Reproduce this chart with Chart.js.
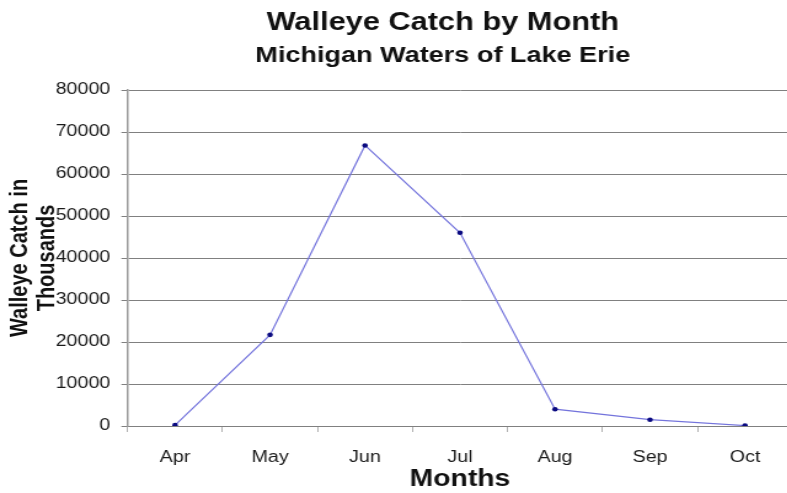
<!DOCTYPE html>
<html>
<head>
<meta charset="utf-8">
<title>Walleye Catch by Month</title>
<script src="https://cdn.jsdelivr.net/npm/chart.js@4.4.1/dist/chart.umd.min.js"></script>
<style>
    html, body { margin: 0; padding: 0; background: #fff; overflow: hidden; }
    #wrap { position: relative; width: 787px; height: 493px; overflow: hidden; }
    /* the reference is a horizontally stretched image, so stretch the canvas the same way */
    #chart { position: absolute; left: 0; top: 0; transform: scaleX(1.23); transform-origin: 0 0; }
</style>
</head>
<body>
<div id="wrap"><canvas id="chart" width="720" height="493"></canvas></div>
<script>
var months = ['Apr', 'May', 'Jun', 'Jul', 'Aug', 'Sep', 'Oct'];
var catchValues = [200, 21700, 66800, 46000, 4000, 1500, 100];
var yTicks = [0, 10000, 20000, 30000, 40000, 50000, 60000, 70000, 80000];

var chartTitle = 'Walleye Catch by Month';
var chartSubtitle = 'Michigan Waters of Lake Erie';
var xTitle = 'Months';
var yTitle = ['Walleye Catch in', 'Thousands'];

Chart.defaults.font.family = 'Arial, "Liberation Sans", sans-serif';
Chart.defaults.color = '#222';

var ctx = document.getElementById('chart').getContext('2d');
var myLineChart = new Chart(ctx, {
    type: 'line',
    data: {
        labels: months,
        datasets: [{
            label: 'Walleye catch',
            data: catchValues,
            borderColor: '#7474dc',
            borderWidth: 1.2,
            pointBackgroundColor: '#0a0a80',
            pointBorderColor: '#0a0a80',
            pointRadius: 2.3,
            pointBorderWidth: 0,
            tension: 0,
            fill: false
        }]
    },
    options: {
        responsive: false,
        animation: false,
        layout: { padding: 0 },
        plugins: {
            legend: { display: false },
            tooltip: { enabled: false },
            title: {
                display: true,
                text: chartTitle,
                color: '#111',
                font: { size: 25, weight: 'bold' },
                padding: { top: 8, bottom: 0 }
            },
            subtitle: {
                display: true,
                text: chartSubtitle,
                color: '#111',
                font: { size: 22, weight: 'bold' },
                padding: { top: 5, bottom: 20.6 }
            }
        },
        scales: {
            x: {
                offset: true,
                grid: {
                    offset: true,
                    drawOnChartArea: false,
                    drawTicks: true,
                    tickLength: 6,
                    color: '#b0b0b0'
                },
                border: { display: true, color: '#808080', width: 1 },
                ticks: {
                    padding: 16,
                    color: '#1a1a1a',
                    font: { size: 16 }
                },
                title: {
                    display: true,
                    text: xTitle,
                    color: '#111',
                    font: { size: 23, weight: 'bold' },
                    padding: { top: 0, bottom: 0 }
                },
                afterFit: function (scale) { scale.height = 67; }
            },
            y: {
                min: yTicks[0],
                max: yTicks[yTicks.length - 1],
                grid: {
                    color: '#808080',
                    lineWidth: 1,
                    drawTicks: true,
                    tickLength: 5
                },
                border: { display: true, color: '#9a9a9a', width: 1.5 },
                ticks: {
                    stepSize: yTicks[1] - yTicks[0],
                    padding: 9,
                    color: '#1a1a1a',
                    font: { size: 16 },
                    callback: function (value) { return String(value); }
                },
                title: {
                    display: true,
                    text: yTitle,
                    color: '#111',
                    font: { size: 20, weight: 'bold', lineHeight: 1.1 },
                    padding: { top: 5, bottom: 0 }
                },
                afterFit: function (scale) { scale.width = 103.7; }
            },
            pad: {
                type: 'linear',
                axis: 'y',
                position: 'right',
                grid: { display: false },
                border: { display: false },
                ticks: { display: false },
                afterFit: function (scale) { scale.width = 75.7; }
            }
        }
    }
});
</script>
</body>
</html>
